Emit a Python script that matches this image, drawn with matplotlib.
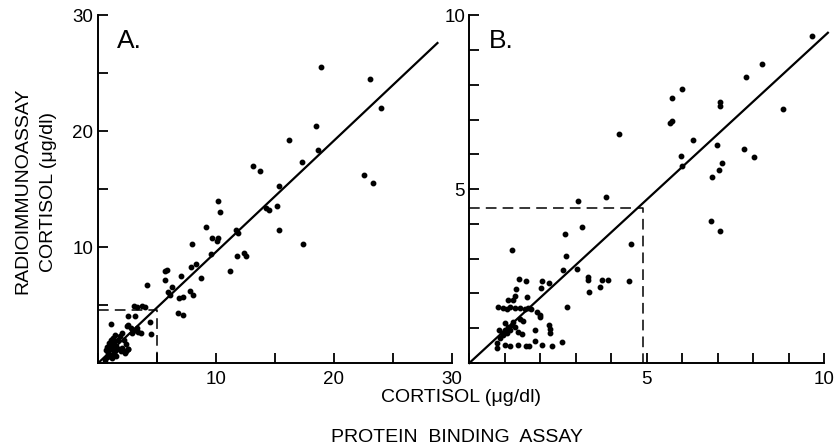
import numpy as np
import matplotlib.pyplot as plt

plt.rcParams['font.family'] = ['Liberation Sans', 'DejaVu Sans']

# panel A : protein binding (x) vs radioimmunoassay (y), ug/dl
a_x = [18.9, 23.1, 24.0, 18.5, 18.7, 16.2, 17.3, 13.2, 13.8, 15.4, 22.6, 23.3,
       10.2, 10.4, 14.3, 14.5, 15.2, 15.4, 17.4, 9.2, 11.7, 11.9, 9.7, 10.1,
       10.2, 8.0, 9.6, 11.8, 12.4, 12.6, 11.2, 8.3, 7.9, 8.8, 7.1, 5.9, 5.7,
       5.7, 6.3, 6.0, 6.1, 6.9, 7.2, 7.8, 8.1, 6.85, 7.2, 4.2,
       0.6, 0.8, 1.0, 0.9, 1.1, 1.3, 1.5, 1.2, 1.4, 1.0, 0.8, 1.6, 1.8, 2.0,
       1.7, 1.3, 1.1, 1.5, 1.9, 2.2, 2.4, 2.6, 2.3, 0.7, 1.2, 1.6, 2.8, 3.0,
       3.3, 3.4, 2.9, 3.7, 4.5, 2.5, 2.6, 2.1, 1.1, 2.6, 3.2, 4.4, 3.1, 3.3,
       3.8, 4.0, 2.6, 2.4, 2.1]
a_y = [25.5, 24.5, 22.0, 20.4, 18.4, 19.2, 17.3, 17.0, 16.6, 15.3, 16.2, 15.5,
       14.0, 13.0, 13.4, 13.2, 13.5, 11.5, 10.3, 11.7, 11.5, 11.2, 10.8, 10.5,
       10.75, 10.3, 9.4, 9.25, 9.5, 9.2, 7.9, 8.5, 8.25, 7.35, 7.5, 8.0, 7.9,
       7.15, 6.6, 6.15, 5.85, 5.65, 5.7, 6.2, 5.9, 4.3, 4.15, 6.7,
       0.3, 0.5, 0.6, 0.9, 1.2, 0.8, 1.0, 1.5, 1.8, 1.7, 1.4, 1.5, 1.2, 1.0,
       2.0, 2.2, 2.0, 2.4, 2.3, 2.0, 1.6, 1.2, 0.9, 1.1, 0.4, 0.6, 3.0, 2.8,
       3.0, 2.7, 2.6, 2.6, 2.5, 3.2, 3.3, 2.6, 3.4, 4.1, 4.1, 3.5, 4.9, 4.8,
       4.9, 4.85, 1.25, 1.0, 1.3]

# panel B : low range
b_x = [9.66, 8.24, 7.79, 8.85, 7.05, 7.05, 5.98, 5.71, 5.70, 5.66, 4.23, 6.30,
       6.99, 7.75, 8.01, 5.96, 6.00, 7.13, 7.03, 6.84, 6.80, 7.05, 3.84, 3.07,
       3.18, 2.70, 4.55, 1.19, 2.72, 2.63, 3.04, 3.34, 3.34, 3.73, 3.92, 4.49,
       3.67, 3.36, 1.41, 1.60, 2.05, 2.24, 2.01, 1.32, 1.28, 1.10, 1.22, 1.63,
       0.82, 0.96, 1.05, 1.15, 1.29, 1.43, 1.57, 1.65, 1.73, 1.91, 2.00, 2.00,
       2.24, 2.26, 2.26, 1.86, 1.43, 1.52, 1.48, 1.38, 2.74,
       0.77, 0.86, 0.96, 1.01, 1.10, 1.19, 1.29, 1.24, 1.15, 1.05, 0.91, 0.85,
       1.01, 0.77, 1.01, 1.15, 1.36, 1.60, 1.69, 1.85, 2.04, 2.34, 2.61]
b_y = [9.41, 8.61, 8.21, 7.31, 7.51, 7.38, 7.89, 7.61, 6.96, 6.90, 6.58, 6.40,
       6.26, 6.15, 5.93, 5.96, 5.67, 5.75, 5.56, 5.34, 4.08, 3.79, 4.77, 4.65,
       3.90, 3.72, 3.43, 3.24, 3.08, 2.67, 2.69, 2.48, 2.39, 2.39, 2.39, 2.37,
       2.19, 2.03, 2.43, 2.36, 2.37, 2.31, 2.16, 2.12, 1.92, 1.80, 1.80, 1.89,
       1.60, 1.58, 1.56, 1.60, 1.57, 1.58, 1.55, 1.58, 1.55, 1.46, 1.38, 1.31,
       1.10, 0.99, 0.87, 0.95, 1.26, 1.22, 0.84, 0.88, 1.61,
       0.57, 0.71, 0.80, 0.95, 1.03, 1.09, 1.04, 1.19, 0.95, 0.85, 0.85, 0.95,
       1.14, 0.42, 0.52, 0.49, 0.52, 0.49, 0.49, 0.63, 0.52, 0.50, 0.60]

# regression lines (slope, intercept, x range) and dashed boxes
a_fit = (0.96, -0.05, [0.1, 28.8])
b_fit = (0.94, 0.0, [0.0, 10.1])
a_box = (5.0, 4.6)
b_box = (4.9, 4.45)

fig = plt.figure(figsize=(8.34, 4.46), dpi=100)
axA = fig.add_axes([0.117, 0.186, 0.4245, 0.780])
axB = fig.add_axes([0.5627, 0.186, 0.4257, 0.780])


def style(ax, xmax, ymax, major, minor):
    ax.set_xlim(0, xmax)
    ax.set_ylim(0, ymax)
    for s in ['top', 'right']:
        ax.spines[s].set_visible(False)
    for s in ['left', 'bottom']:
        ax.spines[s].set_linewidth(1.4)
    ax.set_xticks(np.arange(0, xmax + 0.01, minor), minor=True)
    ax.set_yticks(np.arange(0, ymax + 0.01, minor), minor=True)
    ax.set_xticks(np.arange(major, xmax + 0.01, major))
    ax.set_yticks(np.arange(major, ymax + 0.01, major))
    ax.tick_params(which='both', direction='in', length=7, width=1.3)
    ax.tick_params(axis='x', which='both', pad=6, labelsize=13.5)
    ax.tick_params(axis='y', which='both', pad=3, labelsize=13.5)


def panel(ax, xs, ys, fit, box, name):
    ax.plot(xs, ys, 'o', color='black', ms=3.2, clip_on=False)
    lx = np.array(fit[2])
    ax.plot(lx, fit[0] * lx + fit[1], color='black', lw=1.6, clip_on=False)
    ax.plot([0, box[0], box[0]], [box[1], box[1], 0], color='black',
            lw=1.1, ls=(0, (7, 4)))
    ax.text(0.055, 0.96, name, transform=ax.transAxes, fontsize=19,
            va='top', ha='left')


style(axA, 30, 30, 10, 5)
style(axB, 10, 10, 5, 1)
panel(axA, a_x, a_y, a_fit, a_box, 'A.')
panel(axB, b_x, b_y, b_fit, b_box, 'B.')

fig.text(0.027, 0.573, 'RADIOIMMUNOASSAY', rotation=90, ha='center',
         va='center', fontsize=14)
fig.text(0.058, 0.569, 'CORTISOL (\u03bcg/dl)', rotation=90, ha='center',
         va='center', fontsize=14)
fig.text(0.553, 0.108, 'CORTISOL (\u03bcg/dl)', ha='center', va='center',
         fontsize=14)
fig.text(0.548, 0.02, 'PROTEIN  BINDING  ASSAY', ha='center', va='center',
         fontsize=14)

fig.savefig('out.png', dpi=100)
